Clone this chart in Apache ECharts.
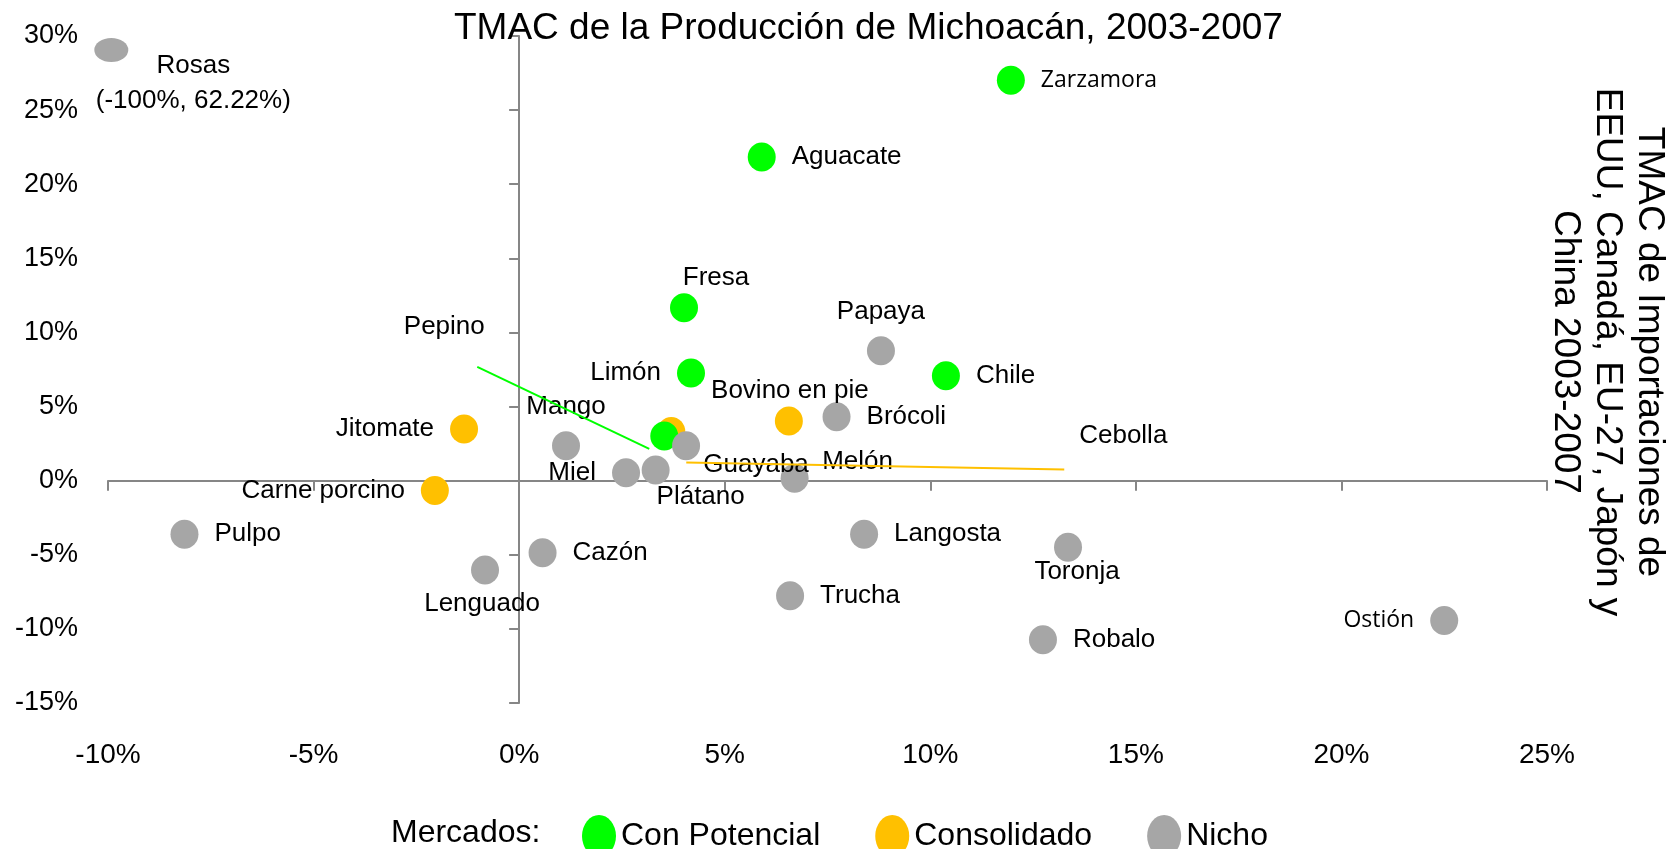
<!DOCTYPE html>
<html>
<head>
<meta charset="utf-8">
<title>TMAC Michoacán</title>
<script src="https://cdn.jsdelivr.net/npm/echarts@6/dist/echarts.min.js"></script>
<style>
html, body { margin: 0; padding: 0; background: #fff; }
#chart { width: 1674px; height: 849px; }
</style>
</head>
<body>
<div id="chart"></div>
<script>
// productos (orden de dibujo dentro de cada mercado)
var productos = ['Zarzamora', 'Aguacate', 'Fresa', 'Chile', 'Limón', 'Pepino',
    'Bovino en pie', 'Jitomate', 'Carne porcino', 'Cebolla',
    'Rosas', 'Papaya', 'Brócoli', 'Mango', 'Guayaba', 'Miel', 'Plátano', 'Melón',
    'Pulpo', 'Cazón', 'Lenguado', 'Langosta', 'Toronja', 'Trucha', 'Robalo', 'Ostión'];
var mercado = ['Con Potencial', 'Con Potencial', 'Con Potencial', 'Con Potencial', 'Con Potencial', 'Con Potencial',
    'Consolidado', 'Consolidado', 'Consolidado', 'Consolidado',
    'Nicho', 'Nicho', 'Nicho', 'Nicho', 'Nicho', 'Nicho', 'Nicho', 'Nicho',
    'Nicho', 'Nicho', 'Nicho', 'Nicho', 'Nicho', 'Nicho', 'Nicho', 'Nicho'];
// TMAC de la produccion de Michoacan (eje x, %)
var tmacProd = [11.96, 5.90, 4.01, 10.38, 4.18, 3.53,
    6.56, -1.34, -2.05, 3.70,
    -9.92, 8.80, 7.72, 1.14, 4.06, 2.60, 3.32, 6.70,
    -8.14, 0.57, -0.83, 8.39, 13.35, 6.59, 12.74, 22.50];
// TMAC de importaciones (eje y, %)
var tmacImp = [27.01, 21.84, 11.67, 7.08, 7.27, 3.02,
    4.03, 3.49, -0.67, 3.31,
    29.06, 8.77, 4.32, 2.36, 2.36, 0.54, 0.72, 0.16,
    -3.62, -4.86, -6.03, -3.62, -4.49, -7.76, -10.73, -9.43];
// valores reales de puntos fuera de escala
var fueraDeEscala = { 'Rosas': [-100, 62.22] };

var ejeX = [-10, 25, 5];
var ejeY = [-15, 30, 5];

var mercados = ['Con Potencial', 'Consolidado', 'Nicho'];
var ordenSeries = ['Consolidado', 'Con Potencial', 'Nicho'];
var colores = { 'Con Potencial': '#00ff00', 'Consolidado': '#ffc000', 'Nicho': '#a6a6a6' };

// acomodo de etiquetas (pixeles respecto al centro del punto)
var etiquetaLado = {
    'Zarzamora': 'right', 'Aguacate': 'right', 'Chile': 'right', 'Brócoli': 'right',
    'Langosta': 'right', 'Trucha': 'right', 'Robalo': 'right', 'Pulpo': 'right', 'Cazón': 'right',
    'Limón': 'left', 'Jitomate': 'left', 'Carne porcino': 'left', 'Ostión': 'left', 'Miel': 'left'
};
var etiquetaDesp = {
    'Fresa': [32, -30], 'Papaya': [0, -39], 'Bovino en pie': [1, -30], 'Mango': [0, -39],
    'Lenguado': [-3, 34], 'Toronja': [9, 25], 'Plátano': [45, 27], 'Guayaba': [70, 19],
    'Melón': [63, -16], 'Rosas': [82, 33],
    'Pepino': [-220, -109], 'Cebolla': [452, 4]
};
// lineas guia: [inicio, fin] en pixeles respecto al punto
var guias = {
    'Pepino': [[-187, -69], [-15, 13]],
    'Cebolla': [[15, 31], [393, 38]]
};
var letraChica = { 'Zarzamora': true, 'Ostión': true };

var fuente = '"Liberation Sans", Arial, sans-serif';
var elipse = 'path://M0,21A17,21,0,1,1,34,21A17,21,0,1,1,0,21Z';

var nombresSerie = [];

function puntos(grupo) {
    var d = [];
    var nombres = [];
    for (var i = 0; i < productos.length; i++) {
        if (mercado[i] != grupo) {
            continue;
        }
        var n = productos[i];
        var lbl = { show: true };
        if (etiquetaLado[n]) {
            lbl.position = etiquetaLado[n];
            lbl.distance = 16;
        } else {
            lbl.position = 'inside';
        }
        if (letraChica[n]) {
            lbl.fontFamily = '"Open Sans", sans-serif';
            lbl.fontSize = 23;
        }
        var item = {
            name: n,
            value: [tmacProd[i], tmacImp[i]],
            label: lbl
        };
        if (fueraDeEscala[n]) {
            item.symbolSize = [34, 24];
            lbl.lineHeight = 35;
        }
        d.push(item);
        nombres.push(n);
    }
    nombresSerie.push(nombres);
    return d;
}

var series = [];
for (var s = 0; s < ordenSeries.length; s++) {
    var g = ordenSeries[s];
    series.push({
        name: g,
        type: 'scatter',
        symbol: elipse,
        symbolSize: [28, 29],
        itemStyle: { color: colores[g], opacity: 1 },
        label: {
            show: true,
            color: '#000',
            fontSize: 26,
            fontFamily: fuente,
            formatter: function (p) {
                var r = fueraDeEscala[p.name];
                if (r) {
                    return p.name + '\n(' + r[0] + '%, ' + r[1] + '%)';
                }
                return p.name;
            }
        },
        labelLayout: function (p) {
            var n = nombresSerie[p.seriesIndex][p.dataIndex];
            var dd = etiquetaDesp[n];
            if (dd) {
                return {
                    x: p.rect.x + p.rect.width / 2 + dd[0],
                    y: p.rect.y + p.rect.height / 2 + dd[1],
                    align: 'center',
                    verticalAlign: 'middle'
                };
            }
            return {};
        },
        emphasis: { disabled: true },
        data: puntos(g)
    });
}

var lineaEje = { color: '#868686', width: 2 };
function pct(v) { return v + '%'; }

var textos = [
    {
        id: 'mercados', type: 'text', x: 391, y: 833, silent: true,
        style: { text: 'Mercados:', font: '32px ' + fuente, fill: '#000', align: 'left', verticalAlign: 'middle' }
    },
    {
        id: 'tituloY', type: 'text', x: 1607, y: 352, rotation: -Math.PI / 2, silent: true,
        style: {
            text: 'TMAC de Importaciones de\nEEUU, Canadá, EU-27, Japón y\nChina 2003-2007',
            font: '37px ' + fuente, fill: '#000', align: 'center', verticalAlign: 'middle', lineHeight: 42
        }
    }
];

var option = {
    animation: false,
    backgroundColor: '#fff',
    title: {
        text: 'TMAC de la Producción de Michoacán, 2003-2007',
        left: 449,
        top: 5,
        textStyle: { fontSize: 37, fontWeight: 'normal', color: '#000', fontFamily: fuente }
    },
    grid: { left: 108, right: 127, top: 36, bottom: 146, containLabel: false },
    legend: {
        data: mercados,
        left: 577,
        top: 810,
        icon: elipse,
        itemWidth: 34,
        itemHeight: 42,
        itemGap: 55,
        selectedMode: false,
        textStyle: { fontSize: 32, color: '#000', fontFamily: fuente }
    },
    xAxis: [
        {
            type: 'value', min: ejeX[0], max: ejeX[1], interval: ejeX[2], position: 'bottom',
            axisLine: { show: false, onZero: false },
            axisTick: { show: false },
            splitLine: { show: false },
            axisLabel: { margin: 38, fontSize: 28, color: '#000', fontFamily: fuente, formatter: pct }
        },
        {
            type: 'value', min: ejeX[0], max: ejeX[1], interval: ejeX[2], position: 'bottom',
            axisLine: { show: true, onZero: true, lineStyle: lineaEje },
            axisTick: { show: true, length: 10, lineStyle: lineaEje },
            splitLine: { show: false },
            axisLabel: { show: false }
        }
    ],
    yAxis: [
        {
            type: 'value', min: ejeY[0], max: ejeY[1], interval: ejeY[2], position: 'left',
            axisLine: { show: false, onZero: false },
            axisTick: { show: false },
            splitLine: { show: false },
            axisLabel: { margin: 30, fontSize: 27, color: '#000', fontFamily: fuente, formatter: pct }
        },
        {
            type: 'value', min: ejeY[0], max: ejeY[1], interval: ejeY[2], position: 'left',
            axisLine: { show: true, onZero: true, lineStyle: lineaEje },
            axisTick: { show: true, length: 10, lineStyle: lineaEje },
            splitLine: { show: false },
            axisLabel: { show: false }
        }
    ],
    graphic: textos,
    series: series
};

var myChart = echarts.init(document.getElementById('chart'));
myChart.setOption(option);

// lineas guia de Pepino y Cebolla, ubicadas desde el punto ya escalado
var lineas = [];
for (var n in guias) {
    var i = productos.indexOf(n);
    var c = myChart.convertToPixel({ seriesIndex: 0 }, [tmacProd[i], tmacImp[i]]);
    var gd = guias[n];
    lineas.push({
        id: 'guia' + i, type: 'line', silent: true, z: 5,
        shape: { x1: c[0] + gd[0][0], y1: c[1] + gd[0][1], x2: c[0] + gd[1][0], y2: c[1] + gd[1][1] },
        style: { stroke: colores[mercado[i]], lineWidth: 2 }
    });
}
myChart.setOption({ graphic: textos.concat(lineas) });
</script>
</body>
</html>
